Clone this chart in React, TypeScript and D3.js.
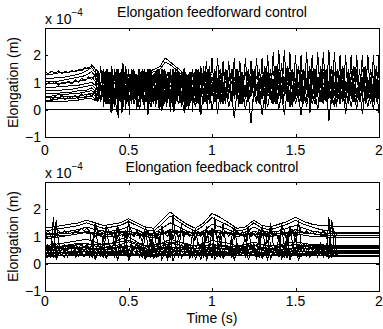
import React from "react";
import * as d3 from "d3";

// elongation values are in units of 1e-5 m (the axes show "x 10^-4")
const xTicks = [0, 0.5, 1, 1.5, 2];
const xTickLabels = ["0", "0.5", "1", "1.5", "2"];
const yTicks = [-10, 0, 10, 20];
const yTickLabels = ["\u22121", "0", "1", "2"];

// ---------- feedforward panel ----------
// slow start of the traces, t = 0 .. 0.32 step 0.04
const ffSlowStart = 0;
const ffSlowStep = 0.04;
const ffSlow = [
  [13, 13, 13.5, 13.5, 14, 14.5, 15, 16, 14],
  [11.5, 11.5, 12, 12, 12.5, 13, 14, 15.5, 12],
  [10.5, 10.5, 10.5, 11, 11.5, 12, 12.5, 14, 10],
  [9.5, 9.5, 9.5, 10, 10, 10.5, 11, 12, 9],
  [8, 8, 8.5, 8.5, 9, 9, 9.5, 10, 8],
  [7, 7, 7, 7.5, 7.5, 8, 8.5, 9, 7],
  [6, 6, 6, 6.5, 6.5, 7, 7, 8, 6],
  [5, 5, 5.5, 5.5, 6, 6, 6.5, 7, 5],
  [4.5, 4.5, 4.5, 5, 5, 5, 5.5, 6, 4],
  [3.5, 3.5, 4, 4, 4, 4.5, 4.5, 5, 3],
  [3, 3, 3, 3, 3.5, 3.5, 4, 4, 3],
];
// wiggly traces at the start, t = 0 .. 0.3 step 0.02
const ffWiggleStart = 0;
const ffWiggleStep = 0.02;
const ffWiggle = [
  [14, 13.2, 14.2, 13.4, 14.3, 13.3, 14.2, 13.5, 14.5, 13.8, 14.8, 14.2, 15.5, 15, 16.5, 15],
  [9, 10, 9.5, 10.5, 9, 10, 9.5, 10.5, 9.5, 11, 10, 11.5, 10.5, 12, 11, 13],
  [4, 5, 3.5, 5, 4, 5.5, 3.5, 5, 4, 5.5, 4, 6, 4.5, 6, 5, 7],
];
// hump around t = 0.72
const ffHumpT = [0.62, 0.66, 0.69, 0.72, 0.75, 0.78, 0.82];
const ffHump = [
  [14, 15, 16, 19, 17.5, 16, 14],
  [13.5, 14, 15, 17.5, 16.5, 15, 13],
];
// oscillating traces, t = 0.3 .. 2 step 1/60
const ffFastStart = 0.3;
const ffFastStep = 1 / 60;
const ffFast = [
  [15,5,16,4,15,6,16,3,15,5, 17,4,15,5,14,3,15,5,14,4, 15,5,14,3,15,4,14,5,15,3, 14,5,13,4,14,3,15,5,16,4,
   18,3,19,4,19,3,18,4,18,3, 19,4,18,3,19,4,18,3,19,4, 19,3,20,4,21,3,22,4,22,3, 21,4,20,3,20,4,21,3,20,4,
   21,3,21,4,22,3,21,4,20,3, 20,4,20,3,20,4,20,3,20,4, 20,3,20],
  [5,14,3,15,6,13,2,15,4,14, 3,16,5,14,4,13,3,15,6,14, 4,13,3,15,5,14,4,15,3,13, 5,14,4,13,3,14,5,15,4,16,
   3,16,5,15,4,14,3,15,5,14, 4,15,3,14,4,15,5,14,3,15, 4,16,5,15,3,16,4,17,5,16, 3,15,4,16,5,15,3,16,4,15,
   5,16,3,15,4,16,5,15,3,16, 4,15,5,16,3,15,4,16,5,15, 3,16,4],
  [9,12,7,11,6,12,8,10,6,12, 7,11,9,6,12,8,10,7,12,6, 9,11,7,12,8,6,11,9,7,12, 6,10,8,12,7,11,6,9,12,7,
   10,6,12,8,11,7,9,12,6,10, 8,12,7,11,6,10,9,12,7,11, 6,12,8,10,7,12,6,11,9,7, 12,8,10,6,12,7,11,9,6,12,
   8,10,7,12,6,11,8,9,12,7, 10,6,12,8,11,7,9,12,6,10, 8,11,9],
  [4,7,3,8,2,7,-1,6,-2,7, 1,8,3,6,2,7,0,8,3,6, 1,7,2,8,-0.5,6,3,7,1,8, 2,6,-1,7,2,8,1,6,-2,7,
   2,8,0,6,-1.5,7,2,8,1,6, -3,7,2,8,0,6,-5,7,2,8, -2,6,1,7,2,8,0,6,-2,7, 1,8,2,6,-2,7,1,8,2,6,
   0,7,2,8,-4,6,1,7,2,8, -1.5,6,1,7,0,8,-1.5,6,1,7, 0,8,-1],
  [11,14,9,15,10,13,8,14,12,9, 15,10,13,8,14,11,9,15,12,8, 13,10,14,9,12,15,8,13,11,14, 9,12,15,10,8,14,11,13,9,15,
   10,12,8,14,11,15,9,13,10,14, 8,12,15,9,13,11,14,8,12,10, 15,9,13,11,14,8,12,15,10,13, 9,14,11,8,15,12,10,13,9,14,
   11,8,15,12,10,14,9,13,11,15, 8,12,14,10,13,9,15,11,8,14, 12,10,13],
  [6,3,9,4,10,2,7,5,9,3, 8,2,10,4,6,3,9,5,8,2, 10,4,7,3,9,2,8,5,10,3, 6,4,9,2,8,3,10,5,7,2,
   9,4,8,3,10,2,6,5,9,3, 8,4,10,2,7,3,9,5,8,2, 10,3,6,4,9,2,8,5,10,3, 7,2,9,4,8,3,10,5,6,2,
   9,4,8,3,10,2,7,5,9,3, 8,2,10,4,6,3,9,5,8,2, 10,4,7],
];
// the densest stretch, t = 0.35 .. 1.0 step 1/90
const ffDenseStart = 0.35;
const ffDenseStep = 1 / 90;
const ffDense = [
  [3,14,2,13,-1,15,1,12,-3,14, 2,15,0,13,-2,14,3,12,1,15, 2,13,0,14,3,15,1,12,2,14, 0,13,3,15,1,14,-1,13,2,12,
   3,14,1,15,0,13,2,14,-1,12, 3,15,1,13,2,14,0,15,2],
  [12,4,15,6,13,3,14,5,15,4, 12,6,14,3,13,5,15,4,12,6, 14,3,13,5,15,2,12,6,14,4, 13,5,15,3,12,6,14,4,13,2,
   15,5,12,3,14,6,13,4,15,5, 12,3,14,6,13,4,15,2,14],
  [8,11,5,13,7,10,4,12,9,6, 14,8,11,5,12,7,10,4,13,9, 6,11,8,14,5,10,7,12,4,9, 13,6,11,8,10,5,12,7,14,9,
   4,11,8,13,6,10,5,12,7,9, 14,6,11,8,10,4,13,7,9],
  [1,10,4,14,0,9,5,15,2,11, -1,13,3,8,1,15,4,10,0,12, 5,14,2,9,-2,13,4,11,1,15, 3,8,0,14,5,10,2,12,-1,15,
   4,9,1,13,3,11,0,14,5,10, 2,15,-1,12,4,9,1,13,3],
  [7,2,10,5,13,1,8,4,12,6, 15,3,9,6,11,2,14,5,8,1, 12,7,15,3,10,5,13,2,9,6, 14,1,11,4,8,7,15,2,12,5,
   10,3,14,6,9,1,13,4,11,7, 15,2,8,5,12,3,10,6,14],
  [13,9,15,10,14,8,12,11,15,9, 13,7,14,10,12,8,15,11,13,9, 14,7,12,10,15,8,13,11,14,9, 12,7,15,10,13,8,14,11,12,9,
   15,7,13,10,14,8,12,11,15,9, 13,7,14,10,12,8,15,11,13],
];
// late stretch, t = 1.0 .. 2.0 step 1/75
const ffLateStart = 1.0;
const ffLateStep = 1 / 75;
const ffLate = [
  [5,12,3,14,6,10,2,13,7,15, 4,11,1,14,5,9,3,13,6,15, 2,10,4,12,0,14,5,11,3,15, 6,9,2,13,4,12,1,14,5,10,
   3,15,6,11,-1,13,4,9,2,14, 5,12,3,15,6,10,1,13,4,11, 2,14,5,9,3,15,6,12,1,13, 4,10,2,14,5,11],
  [10,6,13,4,11,7,15,3,9,5, 12,8,14,2,10,6,13,4,15,7, 9,3,12,5,14,8,11,2,13,6, 15,4,10,7,12,3,14,5,9,8,
   13,2,11,6,15,4,10,7,12,3, 14,5,9,8,13,2,11,6,15,4, 10,7,12,3,14,5,9,8,13,2, 11,6,15,4,10,7],
  [8,13,9,12,7,14,10,11,8,15, 9,12,7,13,10,14,8,11,9,15, 7,12,10,13,8,14,9,11,7,15, 10,12,8,13,9,14,7,11,10,15,
   8,12,9,13,7,14,10,11,8,15, 9,12,7,13,10,14,8,11,9,15, 7,12,10,13,8,14,9,11,7,15, 10,12,8,13,9,14],
];

// ---------- feedback panel ----------
// smooth traces, t = 0 .. 2 step 0.05
const fbSmoothStart = 0;
const fbSmoothStep = 0.05;
const fbSmooth = [
  [13.3,13.5,14,14.5,15,16,15,14,14.5,15, 16.5,15,13.5,13,16,19,16.5,14.5,13,15, 18.5,17,15,13,13.5,16,14,13.5,14.5,15.5, 17,15.5,14.5,14,14,13.7,13.7,13.7,13.7,13.7, 13.7],
  [12.1,12.5,13,13.5,14,15,14,13,13.5,14, 15.5,14,12.5,12,14.5,17.5,15.5,13.5,12,14, 17,15.5,14,12,12.5,15,13,12.5,13.5,14.5, 16,14.5,13.5,12.5,12,11.5,11.5,11.5,11.5,11.5, 11.5],
  [10.9,11,11.5,12,12.5,13.5,12.5,12,12,12.5, 13.5,12.5,11,11,13,15,13.5,12,11,12, 14.5,13.5,12.5,11,11.5,13.5,12,11.5,12,13, 14,13,12,11.5,11,11,11,11,11,11, 11],
  [9.3,9.5,10,10.5,11,12,11,10.5,11,11.5, 12,11,10,9.5,11,12.5,12,11,10,11, 12.5,12,11,10,10.5,12,11,10.5,11,11.5, 12.5,11.5,11,10.5,10.5,10.5,10.5,10.5,10.5,10.5, 10.5],
  [10,10,10.5,10.5,11,11.5,10.5,10,10,10.5, 11,10.5,10,10.5,11,11.5,11.5,11.5,11.5,11.5, 12,11.5,11.5,11,10.5,11,10.5,10,10.5,11, 11,10.5,10,10,9.7,9.7,9.7,9.7,9.7,9.7, 9.7],
  [6.7,7,7.5,8,8.5,9,8,7,7.5,9, 10,8,6.5,6,7.5,9,8,7,6.5,7.5, 8.5,8,7.5,6.5,7,8,7,6.5,7,7.5, 8,7.5,7,7,6.7,6.7,6.7,6.7,6.7,6.7, 6.7],
  [5.7,6,6,6.5,7,7.5,6.5,6,6.5,7, 8,7,5.5,5,6.5,7.5,7,6,5.5,6.5, 7,6.5,6,5.5,6,7,6,5.5,6,6.5, 7,6.5,6,6,6,6,6,6,6,6, 6],
  [4.8,5,5,5.5,5.5,6,5.5,5,5.5,6, 6.5,5.5,4.5,4.5,5.5,6,5.5,5,4.5,5, 5.5,5.5,5,4.5,5,5.5,5,4.5,5,5.5, 6,5.5,5.5,5.5,5.5,5.5,5.5,5.5,5.5,5.5, 5.5],
  [3.6,3.8,4,4,4.2,4.5,4.2,4,4,4.5, 5,4.5,3.8,3.5,4,4.5,4.5,4.2,4,4.2, 4.5,4.5,4.2,4,4,4.5,4.2,4,4.2,4.5, 4.8,4.5,4.5,4.5,4.5,4.5,4.5,4.5,4.5,4.5, 4.5],
  [2.4,2.6,3,3,3.2,3.5,3.2,3,3,3.2, 3.5,3.2,2.8,2.6,3,3.3,3.3,3.2,3,3.2, 3.4,3.4,3.2,3,3,3.3,3.2,3,3.2,3.4, 3.6,3.6,3.6,3.6,3.6,3.6,3.6,3.6,3.6,3.6, 3.6],
  [3,3,3,3,3,3,3,3,3,3, 3,3,3,3,3,3,3,3,3,3, 3,3,3,3,3,3,3,3,3,3, 3,3,3,3,2.8,2.8,2.8,2.8,2.8,2.8, 2.8],
];
// extra smooth traces, t = 0 .. 2 step 0.1
const fbCoarseStart = 0;
const fbCoarseStep = 0.1;
const fbCoarse = [
  [10.5,11,11.5,11,11.5,12,10.5,11.5,12,11,11.5,11,10.5,11,11,11.5,11,10.5,10.2,10.2,10.2],
  [6.2,6.5,7.5,7,7.5,8.5,6.5,7.5,8,6.5,7,6.5,6.5,7,6.5,7,6.5,6.3,6.3,6.3,6.3],
  [5.2,5.5,6,5.5,6,6.5,5,6,6,5.5,6,5.5,5,5.5,5,5.5,5.5,5,5,5,5],
  [4,4.2,4.5,4.2,4.5,5,4,4.5,4.8,4.2,4.5,4.2,4,4.2,4,4.5,4.2,4,4,4,4],
  [2.8,3,3.3,3,3.2,3.5,3,3.3,3.5,3.2,3.3,3,3,3.2,3,3.3,3.2,3.2,3.2,3.2,3.2],
];
// jittery traces, t = 0 .. 1.75 step 1/60
const fbFastStart = 0;
const fbFastStep = 1 / 60;
const fbFast = [
  [3,4,3,17,1.5,4,3,4,3,4, 3,4,3,4,3,4,3,9,1.5,4, 3,10,2,4,3,11,1,4,3,12, 1,4,3,4,3,8,1.5,4,9,2,
   4,10,1.5,4,3,12,1,4,10,2, 4,3,4,11,1.5,4,3,12,1,4, 13,1.5,4,11,2,4,3,10,1.5,4, 3,4,12,1.5,4,3,4,11,2,4,
   12,1.5,4,3,10,2,4,11,1.5,4, 12,1,4,3,4,3,4,3,4,3, 4,3,17,2,12,3],
  [6,7,6,2,16,7,6,7,6,7, 6,7,6,7,6,7,6,2,14,7, 6,2,13,7,6,2,14,7,6,3, 16,7,6,7,6,2,12,7,2,13,
   7,3,14,7,6,2,18,7,2,15, 7,6,7,3,13,7,6,2,14,7, 2,17,7,3,15,7,6,3,14,7, 6,7,2,13,7,6,7,2,14,7,
   3,15,7,6,3,13,7,2,14,7, 3,16,7,6,7,6,7,6,7,6, 7,6,3,16,4,6],
  [11,12,11,6,13,12,11,12,11,12, 11,12,12,13,12,13,12,6,15,12, 12,8,14,12,12,7,14,12,12,8, 15,12,11,12,11,8,13,11,7,12,
   11,8,13,11,10,12,9,12,10,12, 10,12,10,12,9,12,10,12,9,12, 10,12,9,12,10,12,10,12,9,12, 10,12,8,13,11,12,11,8,13,11,
   8,13,11,12,8,14,12,8,13,12, 8,15,12,11,12,11,12,11,12,11, 12,11,5,16,10,11],
  [3,5,2.5,4.5,3.5,5.5,3,5,2.5,4.5, 3.5,5,3,5.5,2.5,4.5,3,5,1.5,5.5, 3,5,2,4.5,3.5,5.5,1.5,5,3,4.5,
   2,5.5,3,5,2.5,4.5,1.5,5,3,5.5, 2.5,4.5,3,5,1.5,5.5,3,4.5,2.5,5, 3,5.5,2,4.5,3,5,1.5,5.5,3,4.5,
   2.5,5,3,5.5,2,4.5,3,5,1.5,5.5, 3,4.5,2.5,5,3,5.5,2,4.5,3,5, 1.5,5.5,3,4.5,2.5,5,3,5.5,1.5,4.5,
   3,5,2.5,5.5,3,4.5,3,5,2.5,5.5, 3,4.5,2,5,3,4.5],
  [5,7,4.5,6.5,5.5,7.5,5,7,4.5,6.5, 5.5,7,5,7.5,4.5,6.5,5,8,3.5,7.5, 5,7,4,6.5,5.5,8,3.5,7,5,6.5,
   4,7.5,5,7,4.5,8,3.5,7,5,7.5, 4.5,6.5,5,8,3.5,7.5,5,6.5,4.5,7, 5,7.5,4,6.5,5,8,3.5,7.5,5,6.5,
   4.5,7,5,7.5,4,6.5,5,8,3.5,7.5, 5,6.5,4.5,7,5,7.5,4,6.5,5,8, 3.5,7.5,5,6.5,4.5,7,5,8,3.5,6.5,
   5,7,4.5,7.5,5,6.5,5,7,4.5,7.5, 5,6.5,4,7,5,6.5],
  [3,4,2.5,4.5,3,4,3.5,2.5,4,3, 4.5,2.5,3.5,4,3,4.5,2.5,4,3,3.5, 4.5,2.5,4,3,4,2.5,4.5,3,3.5,4,
   2.5,4.5,3,4,3.5,2.5,4,3,4.5,2.5, 3.5,4,3,4.5,2.5,4,3,3.5,4.5,2.5, 4,3,4,2.5,4.5,3,3.5,4,2.5,4.5,
   3,4,3.5,2.5,4,3,4.5,2.5,3.5,4, 3,4.5,2.5,4,3,3.5,4.5,2.5,4,3, 4,2.5,4.5,3,3.5,4,2.5,4.5,3,4,
   3.5,2.5,4,3,4.5,2.5,3.5,4,3,4.5, 2.5,4,3,3.5,4.5,3],
  [4.5,6,5,6.5,4,5.5,6,4.5,5,6.5, 4,6,5.5,4.5,6.5,5,4,6,5.5,4.5, 6.5,5,4,6,5,4.5,6.5,5.5,4,6,
   5,4.5,6.5,5,4,5.5,6,4.5,5,6.5, 4,6,5.5,4.5,6.5,5,4,6,5.5,4.5, 6.5,5,4,6,5,4.5,6.5,5.5,4,6,
   5,4.5,6.5,5,4,5.5,6,4.5,5,6.5, 4,6,5.5,4.5,6.5,5,4,6,5.5,4.5, 6.5,5,4,6,5,4.5,6.5,5.5,4,6,
   5,4.5,6.5,5,4,5.5,6,4.5,5,6.5, 4,6,5.5,4.5,6.5,5],
];
// middle band jitter, t = 0.3 .. 1.5 step 1/60
const fbMidStart = 0.3;
const fbMidStep = 1 / 60;
const fbMid = [10,11.5,10.5,12,10,11,10.5,12,9.5,11.5, 10,12,10.5,11,10,12.5,9.5,11,10.5,12,
  10,11.5,9.5,12,10.5,11,10,12.5,10,11.5, 9.5,12,10.5,11,10,12,9.5,11.5,10.5,12,
  10,11,10,12.5,9.5,11.5,10.5,12,10,11, 9.5,12,10.5,11.5,10,12,10,11,9.5,12.5,
  10.5,11.5,10,12,10,11,9.5,12,10.5,11.5, 10,12.5,10];

const zeroLine = [0, 0];
const zeroLineT = [0, 2];

const W = 383;
const H = 329;
const FONT = "'Liberation Sans', Arial, Helvetica, sans-serif";
const FS = 14;

function seq(start: number, step: number, values: number[]) {
  return values.map((v, i) => [start + i * step, v] as [number, number]);
}

function drawPanel(svg: any, opts: any) {
  const { top, bottom, left, right, title, titleY, expY, tickY, id, groups, xLabel } = opts;
  const x = d3.scaleLinear().domain([0, 2]).range([left, right]);
  const y = d3.scaleLinear().domain([-10, 30]).range([bottom, top]);

  svg.append("defs").append("clipPath").attr("id", id)
    .append("rect").attr("x", left).attr("y", top)
    .attr("width", right - left).attr("height", bottom - top);

  const line = d3.line<[number, number]>().x((d) => x(d[0])).y((d) => y(d[1]));
  const g = svg.append("g").attr("clip-path", `url(#${id})`);
  groups.forEach((pts: [number, number][]) => {
    g.append("path").attr("d", line(pts)).attr("fill", "none")
      .attr("stroke", "#000").attr("stroke-width", 1)
      .attr("shape-rendering", "crispEdges");
  });

  // axes box
  svg.append("rect").attr("x", left + 0.5).attr("y", top + 0.5)
    .attr("width", right - left).attr("height", bottom - top)
    .attr("fill", "none").attr("stroke", "#000").attr("stroke-width", 1)
    .attr("shape-rendering", "crispEdges");

  const tl = 3;
  xTicks.forEach((t, i) => {
    const px = Math.round(x(t)) + 0.5;
    svg.append("line").attr("x1", px).attr("x2", px).attr("y1", bottom).attr("y2", bottom - tl)
      .attr("stroke", "#000").attr("stroke-width", 1);
    svg.append("line").attr("x1", px).attr("x2", px).attr("y1", top).attr("y2", top + tl)
      .attr("stroke", "#000").attr("stroke-width", 1);
    svg.append("text").attr("x", x(t)).attr("y", tickY).attr("text-anchor", "middle")
      .attr("font-family", FONT).attr("font-size", FS).text(xTickLabels[i]);
  });
  yTicks.forEach((t, i) => {
    const py = Math.round(y(t)) + 0.5;
    svg.append("line").attr("x1", left).attr("x2", left + tl).attr("y1", py).attr("y2", py)
      .attr("stroke", "#000").attr("stroke-width", 1);
    svg.append("line").attr("x1", right).attr("x2", right - tl).attr("y1", py).attr("y2", py)
      .attr("stroke", "#000").attr("stroke-width", 1);
    svg.append("text").attr("x", left - 4).attr("y", y(t) + 5).attr("text-anchor", "end")
      .attr("font-family", FONT).attr("font-size", FS).text(yTickLabels[i]);
  });

  // exponent label
  const ex = svg.append("text").attr("x", left).attr("y", expY)
    .attr("font-family", FONT).attr("font-size", FS);
  ex.append("tspan").text("x 10");
  ex.append("tspan").attr("dy", -8).attr("font-size", 10).text("\u22124");

  svg.append("text").attr("x", 212).attr("y", titleY).attr("text-anchor", "middle")
    .attr("font-family", FONT).attr("font-size", FS).text(title);

  svg.append("text")
    .attr("transform", `translate(18,${(top + bottom) / 2}) rotate(-90)`)
    .attr("text-anchor", "middle").attr("font-family", FONT).attr("font-size", FS)
    .text("Elongation (m)");

  if (xLabel) {
    svg.append("text").attr("x", 212).attr("y", tickY + 17).attr("text-anchor", "middle")
      .attr("font-family", FONT).attr("font-size", FS).text(xLabel);
  }
}

export default function App() {
  const ref = React.useRef<SVGSVGElement>(null);

  React.useEffect(() => {
    const svg = d3.select(ref.current);
    svg.selectAll("*").remove();

    const ffGroups: [number, number][][] = [];
    ffSlow.forEach((s) => ffGroups.push(seq(ffSlowStart, ffSlowStep, s)));
    ffWiggle.forEach((s) => ffGroups.push(seq(ffWiggleStart, ffWiggleStep, s)));
    ffHump.forEach((s) => ffGroups.push(s.map((v, i) => [ffHumpT[i], v] as [number, number])));
    ffFast.forEach((s) => ffGroups.push(seq(ffFastStart, ffFastStep, s)));
    ffDense.forEach((s) => ffGroups.push(seq(ffDenseStart, ffDenseStep, s)));
    ffLate.forEach((s) => ffGroups.push(seq(ffLateStart, ffLateStep, s)));
    ffGroups.push(zeroLine.map((v, i) => [zeroLineT[i], v] as [number, number]));

    const fbGroups: [number, number][][] = [];
    fbSmooth.forEach((s) => fbGroups.push(seq(fbSmoothStart, fbSmoothStep, s)));
    fbCoarse.forEach((s) => fbGroups.push(seq(fbCoarseStart, fbCoarseStep, s)));
    fbFast.forEach((s) => fbGroups.push(seq(fbFastStart, fbFastStep, s)));
    fbGroups.push(seq(fbMidStart, fbMidStep, fbMid));
    fbGroups.push(zeroLine.map((v, i) => [zeroLineT[i], v] as [number, number]));

    drawPanel(svg, {
      top: 28, bottom: 137, left: 45, right: 379,
      title: "Elongation feedforward control", titleY: 17, expY: 23.5, tickY: 155,
      id: "clipFF", groups: ffGroups, xLabel: null,
    });
    drawPanel(svg, {
      top: 182, bottom: 291, left: 45, right: 379,
      title: "Elongation feedback control", titleY: 172, expY: 178, tickY: 306,
      id: "clipFB", groups: fbGroups, xLabel: "Time (s)",
    });
  }, []);

  return (
    <svg ref={ref} width={W} height={H}
      style={{ position: "absolute", left: 0, top: 0, background: "#fff" }} />
  );
}
